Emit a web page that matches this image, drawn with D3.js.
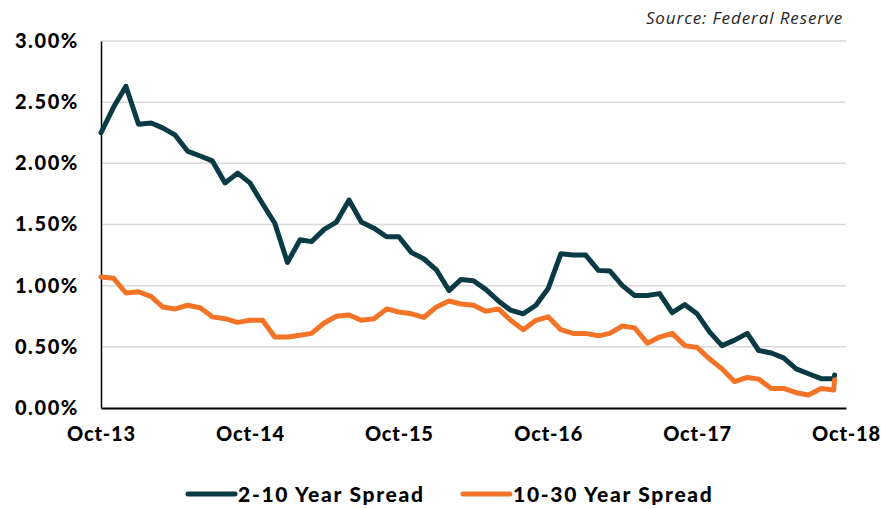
<!DOCTYPE html>
<html>
<head>
<meta charset="utf-8">
<script src="https://cdn.jsdelivr.net/npm/d3@7"></script>
<style>
  html, body { margin: 0; padding: 0; background: #fff; }
  svg { display: block; }
</style>
</head>
<body>
<svg id="chart" width="881" height="509"></svg>
<script>
const dates = [
  "2013-10-01","2013-11-01","2013-12-01","2014-01-01","2014-02-01","2014-03-01","2014-04-01","2014-05-01","2014-06-01","2014-07-01","2014-08-01","2014-09-01",
  "2014-10-01","2014-11-01","2014-12-01","2015-01-01","2015-02-01","2015-03-01","2015-04-01","2015-05-01","2015-06-01","2015-07-01","2015-08-01","2015-09-01",
  "2015-10-01","2015-11-01","2015-12-01","2016-01-01","2016-02-01","2016-03-01","2016-04-01","2016-05-01","2016-06-01","2016-07-01","2016-08-01","2016-09-01",
  "2016-10-01","2016-11-01","2016-12-01","2017-01-01","2017-02-01","2017-03-01","2017-04-01","2017-05-01","2017-06-01","2017-07-01","2017-08-01","2017-09-01",
  "2017-10-01","2017-11-01","2017-12-01","2018-01-01","2018-02-01","2018-03-01","2018-04-01","2018-05-01","2018-06-01","2018-07-01","2018-08-01","2018-09-01",
  "2018-09-03"
];
const spread210 = [
  2.25,2.46,2.63,2.32,2.33,2.29,2.23,2.10,2.06,2.02,1.84,1.92,
  1.84,1.67,1.51,1.19,1.375,1.36,1.46,1.52,1.70,1.52,1.47,1.40,
  1.40,1.27,1.22,1.13,0.96,1.05,1.04,0.97,0.875,0.80,0.77,0.84,
  0.976,1.26,1.25,1.25,1.125,1.12,1.00,0.92,0.92,0.935,0.78,0.845,
  0.77,0.62,0.51,0.555,0.61,0.47,0.45,0.41,0.32,0.28,0.24,0.24,
  0.27
];
const spread1030 = [
  1.07,1.06,0.94,0.95,0.91,0.826,0.81,0.84,0.82,0.745,0.73,0.70,
  0.717,0.717,0.58,0.58,0.595,0.61,0.695,0.75,0.76,0.717,0.73,0.81,
  0.785,0.77,0.74,0.826,0.875,0.85,0.84,0.79,0.81,0.717,0.64,0.717,
  0.745,0.64,0.61,0.61,0.59,0.61,0.67,0.655,0.53,0.58,0.61,0.51,
  0.495,0.40,0.32,0.215,0.25,0.236,0.16,0.16,0.125,0.106,0.16,0.147,
  0.23
];
const yTicks = [0, 0.5, 1.0, 1.5, 2.0, 2.5, 3.0];
const xTickLabels = ["Oct-13","Oct-14","Oct-15","Oct-16","Oct-17","Oct-18"];
const xTickDates = ["2013-10-01","2014-10-01","2015-10-01","2016-10-01","2017-10-01","2018-10-01"];
const seriesNames = ["2-10 Year Spread", "10-30 Year Spread"];
const seriesColors = ["#0a3b44", "#f47427"];
const sourceText = "Source: Federal Reserve";

const parse = d3.timeParse("%Y-%m-%d");
const svg = d3.select("#chart");
const mLeft = 101, mRight = 846, mTop = 41, mBottom = 408;

const x = d3.scaleTime()
  .domain([parse("2013-10-01"), parse("2018-10-01")])
  .range([mLeft, mRight]);
const y = d3.scaleLinear().domain([0, 3]).range([mBottom, mTop]);

const font = "Lato, 'Open Sans', sans-serif";

// gridlines
svg.append("g")
  .selectAll("line")
  .data(yTicks.filter(d => d > 0))
  .join("line")
  .attr("x1", mLeft).attr("x2", mRight)
  .attr("y1", d => y(d)).attr("y2", d => y(d))
  .attr("stroke", "#d9d9d9").attr("stroke-width", 1.5);

// y axis
const yAxis = d3.axisLeft(y).tickValues(yTicks).tickSize(0).tickPadding(22)
  .tickFormat(d => d.toFixed(2) + "%");
const gy = svg.append("g").attr("transform", `translate(${mLeft},0)`).call(yAxis);
gy.select(".domain").attr("stroke", "#000").attr("stroke-width", 1.5);
gy.selectAll("text").attr("font-family", font).attr("font-weight", 900)
  .attr("font-size", 20).attr("letter-spacing", "1.6px").attr("fill", "#000");

// x axis
const xAxis = d3.axisBottom(x).tickValues(xTickDates.map(parse)).tickSize(0).tickPadding(19)
  .tickFormat((d, i) => xTickLabels[i]);
const gx = svg.append("g").attr("transform", `translate(0,${mBottom})`).call(xAxis);
gx.select(".domain").attr("stroke", "#000").attr("stroke-width", 2);
gx.selectAll("text").attr("font-family", font).attr("font-weight", 900)
  .attr("font-size", 20).attr("letter-spacing", "0.8px").attr("fill", "#000");

// lines
const seriesData = [spread210, spread1030];
const line = d3.line().x(d => x(d.date)).y(d => y(d.v));
seriesData.forEach((vals, s) => {
  const pts = vals.map((v, i) => ({date: parse(dates[i]), v}));
  svg.append("path")
    .datum(pts)
    .attr("d", line)
    .attr("fill", "none")
    .attr("stroke", seriesColors[s])
    .attr("stroke-width", 5)
    .attr("stroke-linejoin", "round")
    .attr("stroke-linecap", "round");
});

// source
svg.append("text")
  .attr("x", 843).attr("y", 24)
  .attr("text-anchor", "end")
  .attr("font-family", "'Open Sans', sans-serif")
  .attr("font-style", "italic")
  .attr("font-size", 17)
  .attr("letter-spacing", "0.9px")
  .attr("fill", "#262626")
  .text(sourceText);

// legend
const legendX = [188, 463];
const lg = svg.append("g");
seriesNames.forEach((name, s) => {
  const g = lg.append("g").attr("transform", `translate(${legendX[s]},494)`);
  g.append("line").attr("x1", 0).attr("x2", 47).attr("y1", 0).attr("y2", 0)
    .attr("stroke", seriesColors[s]).attr("stroke-width", 5).attr("stroke-linecap", "round");
  g.append("text").attr("x", 50).attr("y", 7.5)
    .attr("font-family", font).attr("font-weight", 900).attr("font-size", 21)
    .attr("letter-spacing", "1.7px")
    .attr("fill", "#000").text(name);
});
</script>
</body>
</html>
